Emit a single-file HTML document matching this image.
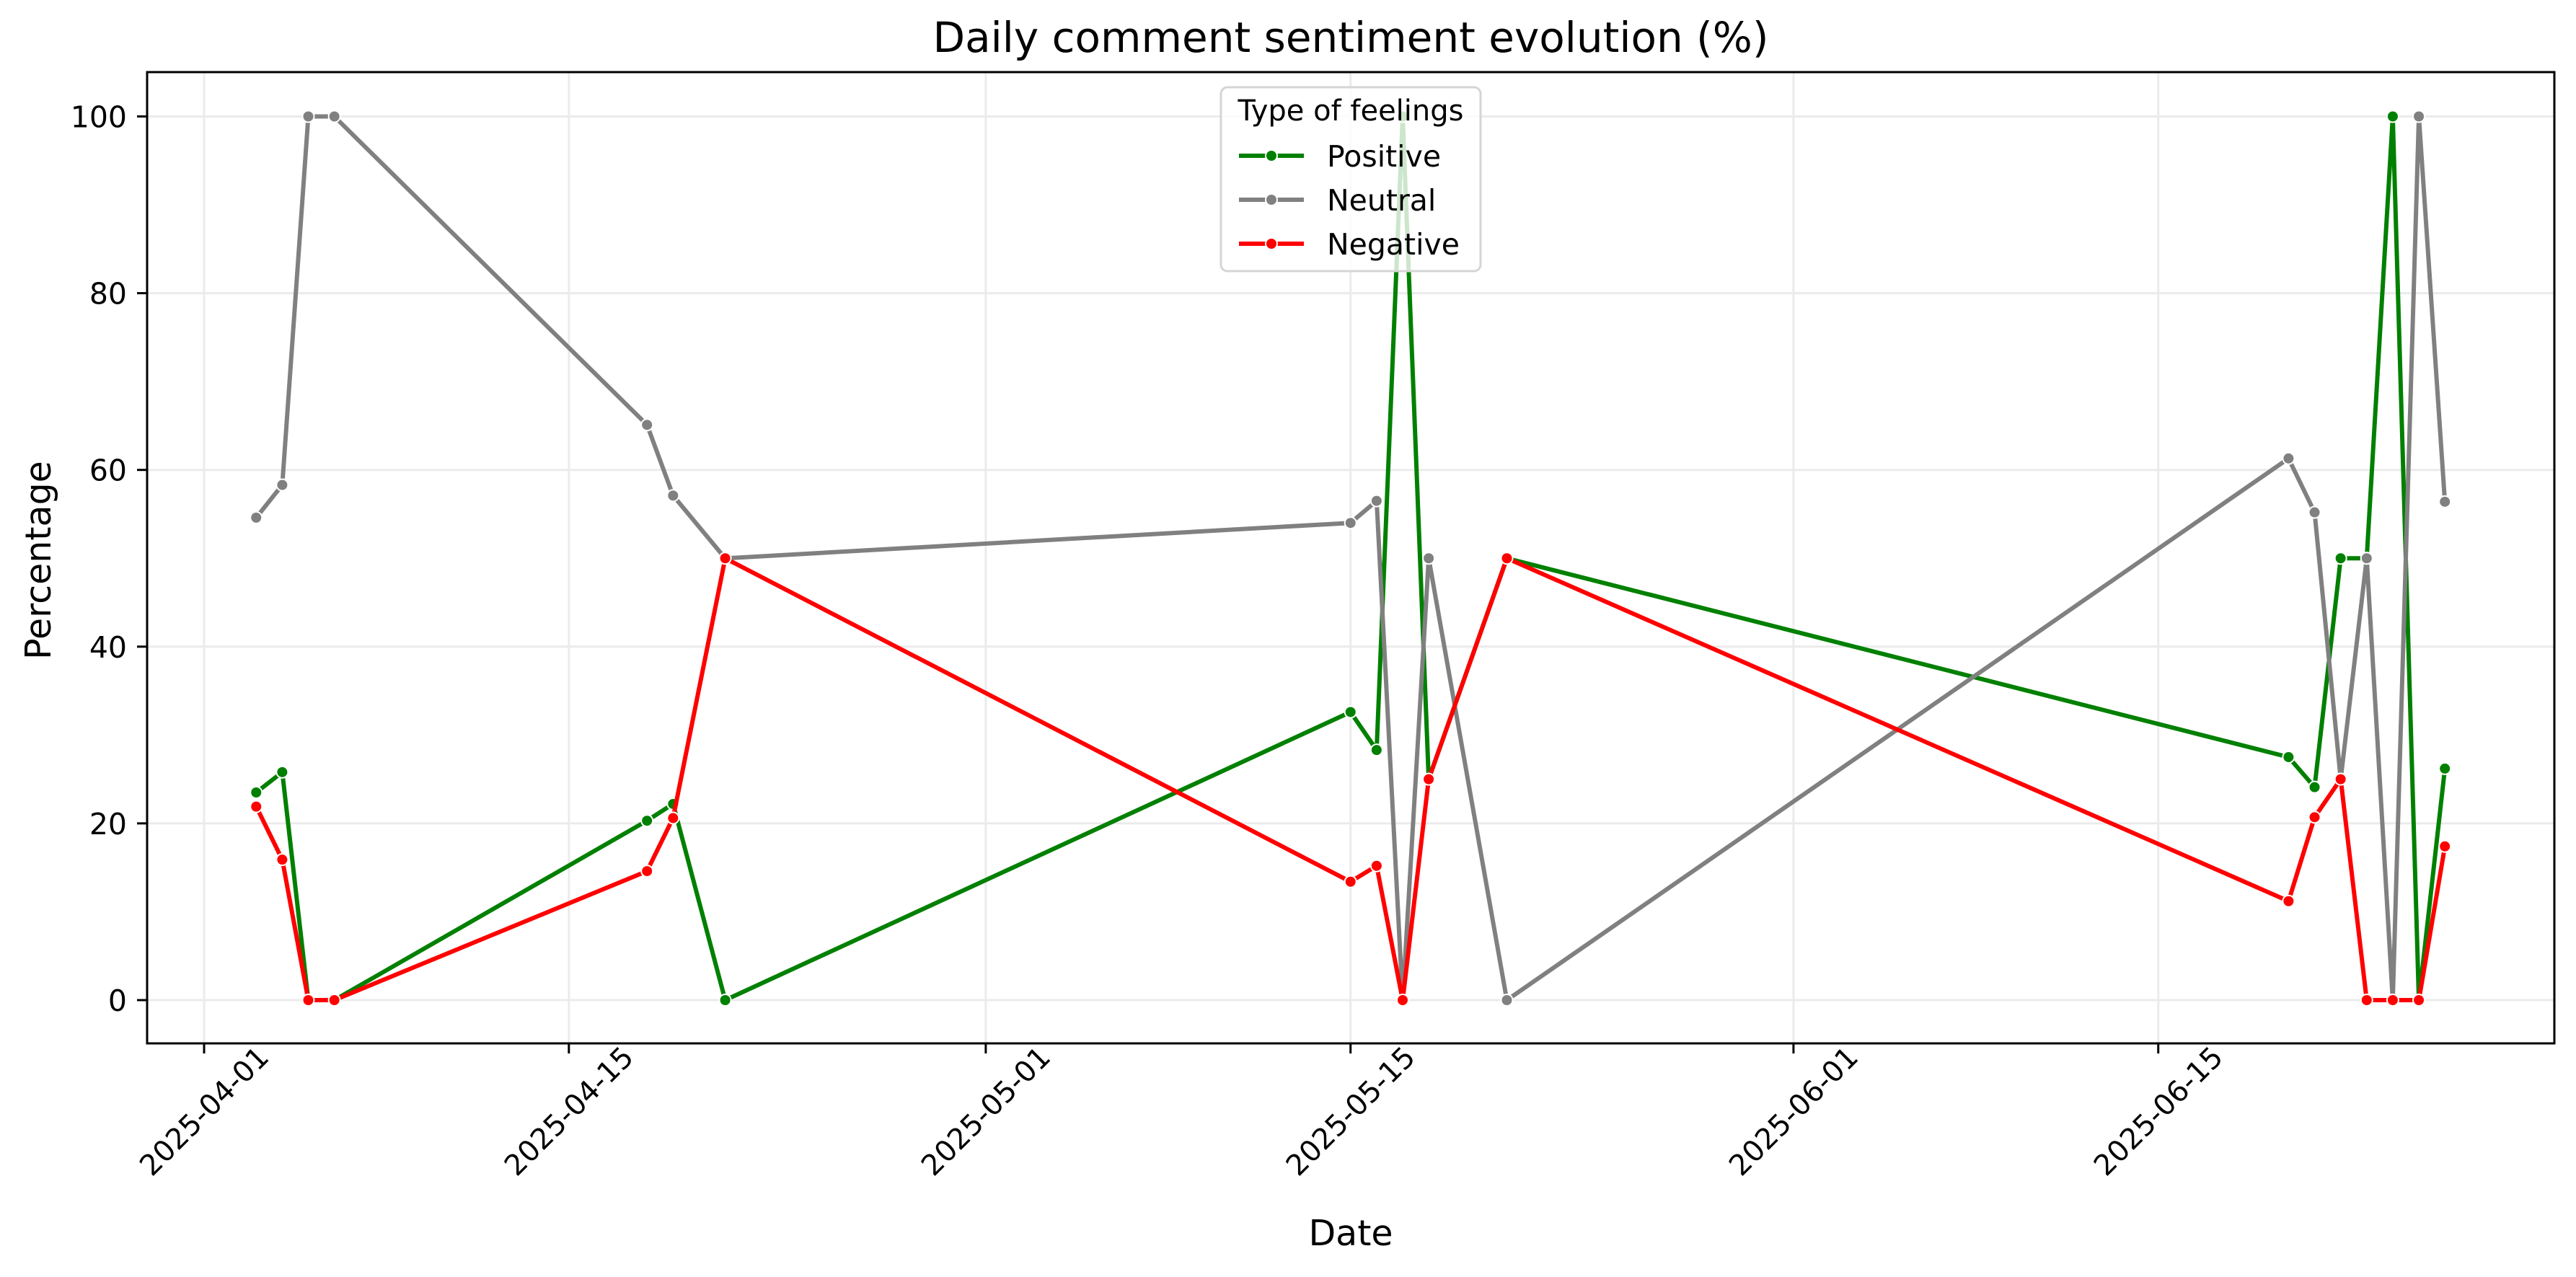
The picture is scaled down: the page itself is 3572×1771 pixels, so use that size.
<!DOCTYPE html>
<html><head><meta charset="utf-8"><style>
html,body{margin:0;padding:0;background:#fff;}
svg{display:block;font-family:"DejaVu Sans","Liberation Sans",sans-serif;}
</style></head><body>
<svg id="chart" width="3572" height="1771" viewBox="0 0 3572 1771" xmlns="http://www.w3.org/2000/svg">
<rect width="3572" height="1771" fill="#fff"/>
<text x="1873" y="72" font-size="58" text-anchor="middle">Daily comment sentiment evolution (%)</text>
<g id="grid"></g>
<g id="series"></g>
<rect x="204" y="100" width="3338" height="1347" fill="none" stroke="#000" stroke-width="3"/>
<g id="axes"></g>
<text x="1873" y="1727" font-size="49" text-anchor="middle">Date</text>
<text transform="translate(70,777) rotate(-90)" font-size="49" text-anchor="middle">Percentage</text>
<g id="legend">
<rect x="1693" y="121" width="360" height="255" rx="9" fill="#fff" fill-opacity="0.8" stroke="#d5d5d5" stroke-width="3"/>
<text x="1873" y="167" font-size="40" text-anchor="middle">Type of feelings</text>
</g>
</svg>
<script>
const dates = ["2025-04-03","2025-04-04","2025-04-05","2025-04-06","2025-04-18","2025-04-19","2025-04-21","2025-05-15","2025-05-16","2025-05-17","2025-05-18","2025-05-21","2025-06-20","2025-06-21","2025-06-22","2025-06-23","2025-06-24","2025-06-25","2025-06-26"];
const positive = [23.5,25.8,0,0,20.3,22.2,0,32.6,28.3,100,25,50,27.5,24.1,50,50,100,0,26.2];
const neutral = [54.6,58.3,100,100,65.1,57.1,50,54,56.5,0,50,0,61.3,55.2,25,50,0,100,56.4];
const negative = [21.9,15.9,0,0,14.6,20.6,50,13.4,15.2,0,25,50,11.2,20.7,25,0,0,0,17.4];
const xTicks = ["2025-04-01","2025-04-15","2025-05-01","2025-05-15","2025-06-01","2025-06-15"];
const yTicks = [0,20,40,60,80,100];
const seriesNames = ["Positive","Neutral","Negative"];
const seriesColors = ["#008000","#808080","#ff0000"];

const NS="http://www.w3.org/2000/svg";
const base = Date.UTC(2025,3,1);
function dayOf(s){const p=s.split("-");return (Date.UTC(+p[0],+p[1]-1,+p[2])-base)/86400000;}
function xS(s){return 283 + dayOf(s)*36.13;}
function yS(v){return 1387 - v*12.255;}
function mk(tag,attrs,parent){const e=document.createElementNS(NS,tag);for(const k in attrs)e.setAttribute(k,attrs[k]);parent.appendChild(e);return e;}
const grid=document.getElementById("grid"),axes=document.getElementById("axes"),ser=document.getElementById("series"),leg=document.getElementById("legend");

xTicks.forEach(t=>{
  const x=xS(t);
  const g=mk("line",{x1:x,x2:x,y1:100,y2:1447,stroke:"#ebebeb","stroke-width":3},grid);
  
  
  const tk=mk("line",{x1:x,x2:x,y1:1447,y2:1461,stroke:"#000","stroke-width":3},axes);
  
  
  const tx=mk("text",{transform:`translate(${x+2},${1543}) rotate(-45)`,"font-size":40,"text-anchor":"middle","dominant-baseline":"middle"},axes);
  tx.textContent=t;
  
  
});
yTicks.forEach(v=>{
  const y=yS(v);
  const g=mk("line",{x1:204,x2:3542,y1:y,y2:y,stroke:"#ebebeb","stroke-width":3},grid);
  
  
  const tk=mk("line",{x1:190,x2:204,y1:y,y2:y,stroke:"#000","stroke-width":3},axes);
  
  
  const tx=mk("text",{x:176,y:y+15,"font-size":41,"text-anchor":"end"},axes);
  tx.textContent=v;
  
  
});
[positive,neutral,negative].forEach((vals,i)=>{
  const g=mk("g",{},ser);
  
  
  const pts=vals.map((v,j)=>xS(dates[j]).toFixed(1)+","+yS(v).toFixed(1)).join(" ");
  const pl=mk("polyline",{points:pts,fill:"none",stroke:seriesColors[i],"stroke-width":6,"stroke-linejoin":"round"},g);
  
  
  vals.forEach((v,j)=>{
    const c=mk("circle",{cx:xS(dates[j]),cy:yS(v),r:8,fill:seriesColors[i],stroke:"#fff","stroke-width":2},g);
    
    
  });
  const ly=216+i*61;
  const ll=mk("line",{x1:1718,x2:1808,y1:ly,y2:ly,stroke:seriesColors[i],"stroke-width":6},leg);
  
  
  const lc=mk("circle",{cx:1763,cy:ly,r:8,fill:seriesColors[i],stroke:"#fff","stroke-width":2},leg);
  
  
  const lt=mk("text",{x:1840,y:ly+15,"font-size":41},leg);
  lt.textContent=seriesNames[i];
  
  
});
</script>
</body></html>
